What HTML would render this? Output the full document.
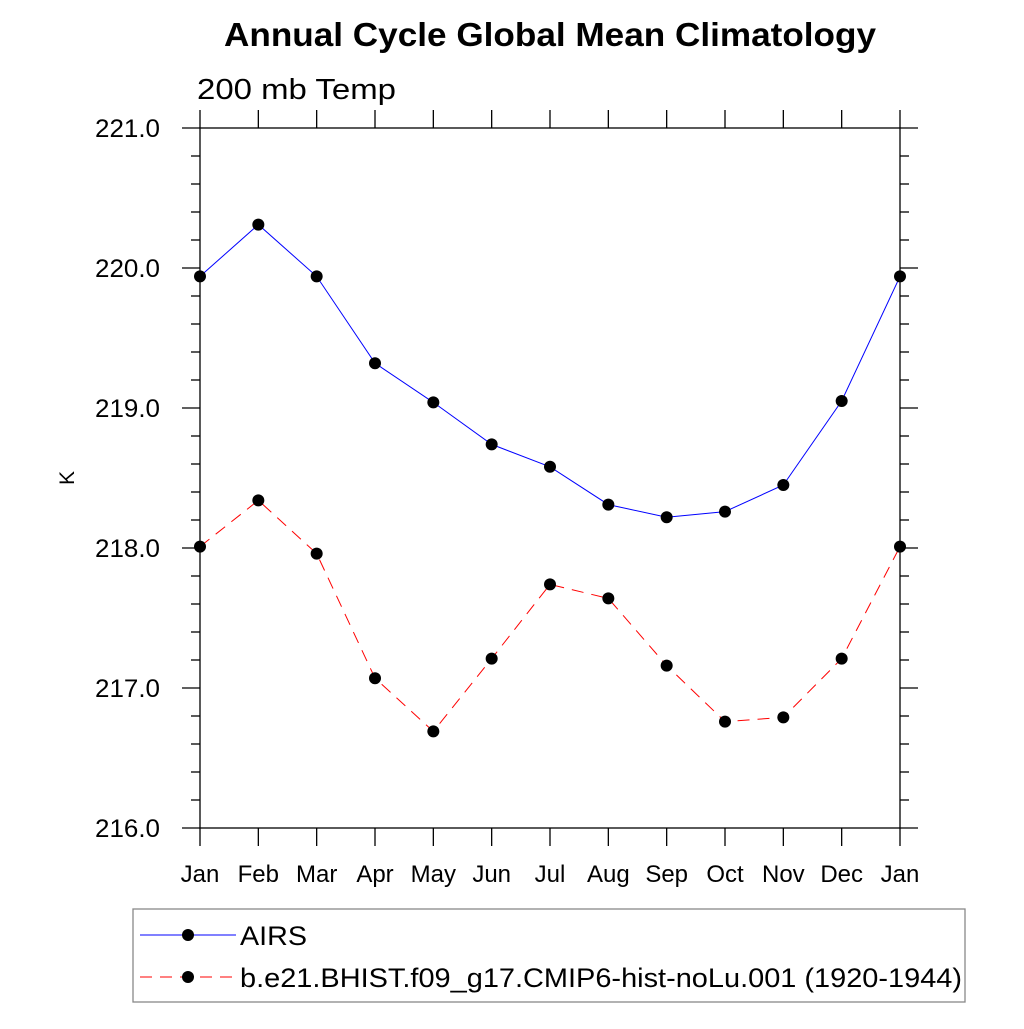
<!DOCTYPE html>
<html><head><meta charset="utf-8"><style>
body{margin:0;background:#fff}
svg text{font-family:"Liberation Sans",sans-serif}
</style></head><body>
<svg width="1024" height="1024" id="c">
<text x="224" y="46" font-size="33" font-weight="bold" textLength="652" lengthAdjust="spacingAndGlyphs">Annual Cycle Global Mean Climatology</text>
<text x="197" y="99" font-size="29" textLength="199" lengthAdjust="spacingAndGlyphs">200 mb Temp</text>
<text x="0" y="0" font-size="21" text-anchor="middle" transform="translate(74,478) rotate(-90)">K</text>
<rect x="200" y="128" width="700" height="700" fill="none" stroke="#000" stroke-width="1.3"/>
<g id="ax"></g><g id="series"></g>
<rect x="133" y="909" width="832" height="93" fill="none" stroke="#888" stroke-width="1.3"/>
<line x1="140" y1="935" x2="236" y2="935" stroke="#00f" stroke-width="1"/>
<circle cx="188" cy="935" r="6"/>
<text x="240" y="945" font-size="27" textLength="67" lengthAdjust="spacingAndGlyphs">AIRS</text>
<line x1="140" y1="977" x2="236" y2="977" stroke="#f00" stroke-width="1" stroke-dasharray="12,8"/>
<circle cx="188" cy="977" r="6"/>
<text x="240" y="987" font-size="27" textLength="722" lengthAdjust="spacingAndGlyphs">b.e21.BHIST.f09_g17.CMIP6-hist-noLu.001 (1920-1944)</text>
</svg>
<script>
const months=["Jan","Feb","Mar","Apr","May","Jun","Jul","Aug","Sep","Oct","Nov","Dec","Jan"];
const airs=[219.94,220.31,219.94,219.32,219.04,218.74,218.58,218.31,218.22,218.26,218.45,219.05,219.94];
const model=[218.01,218.34,217.96,217.07,216.69,217.21,217.74,217.64,217.16,216.76,216.79,217.21,218.01];
const yTicks=["216.0","217.0","218.0","219.0","220.0","221.0"];
const NS="http://www.w3.org/2000/svg";
const X=i=>200+i*700/12, Y=v=>828-(v-216)*140;
const ax=document.getElementById('ax'), se=document.getElementById('series');
function mk(p,t,a){const e=document.createElementNS(NS,t);for(const k in a)e.setAttribute(k,a[k]);p.appendChild(e);return e;}
months.forEach((m,i)=>{
 const x=X(i);
 const t1=mk(ax,'line',{x1:x,x2:x,y1:110,y2:128,stroke:'#000','stroke-width':1.3});
 
 
 const t2=mk(ax,'line',{x1:x,x2:x,y1:828,y2:846,stroke:'#000','stroke-width':1.3});
 
 
 const tx=mk(ax,'text',{x:x,y:882,'font-size':24,'text-anchor':'middle'});tx.textContent=m;
 
 
});
for(let k=0;k<=25;k++){
 const v=216+k*0.2,y=Y(v),maj=k%5===0,L=maj?18:9;
 const a=mk(ax,'line',{x1:200-L,x2:200,y1:y,y2:y,stroke:'#000','stroke-width':1.3});
 
 
 const b=mk(ax,'line',{x1:900,x2:900+L,y1:y,y2:y,stroke:'#000','stroke-width':1.3});
 
 
}
yTicks.forEach(s=>{
 const t=mk(ax,'text',{x:160,y:Y(parseFloat(s))+9,'font-size':25,'text-anchor':'end',textLength:65,lengthAdjust:'spacingAndGlyphs'});t.textContent=s;
 
 
});
function draw(vals,color,dash,name){
 const p=mk(se,'polyline',{points:vals.map((v,i)=>X(i)+','+Y(v)).join(' '),fill:'none',stroke:color,'stroke-width':1,'stroke-dasharray':dash});
 
 
 vals.forEach((v,i)=>{const c=mk(se,'circle',{cx:X(i),cy:Y(v),r:6});
 
 });
}
draw(airs,'#00f','none','airs');
draw(model,'#f00','12,8','model');
</script>
</body></html>
